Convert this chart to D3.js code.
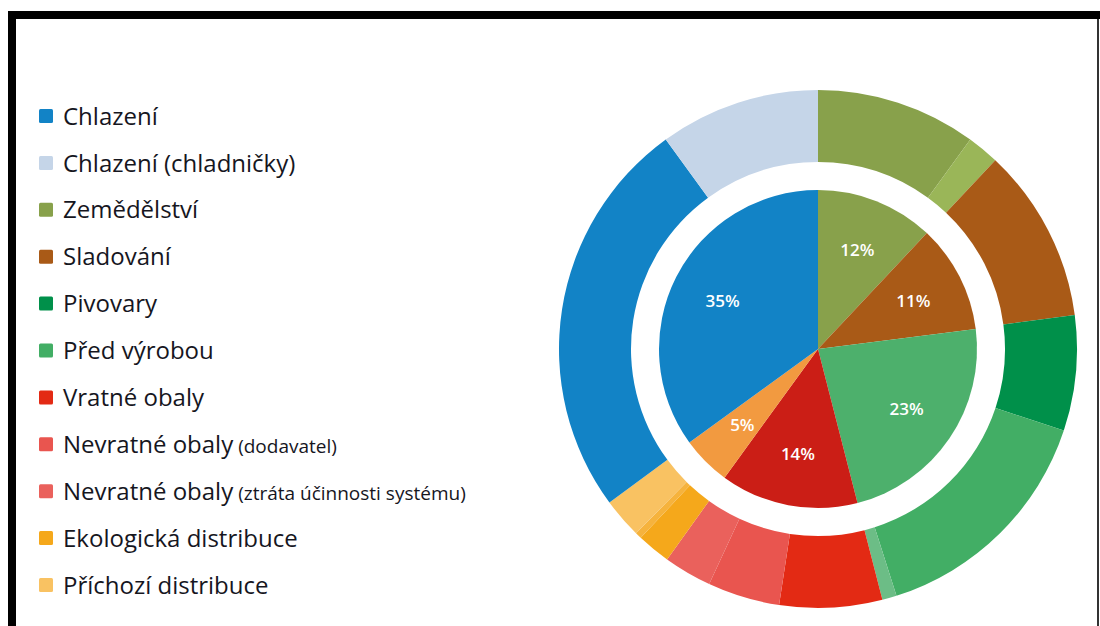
<!DOCTYPE html>
<html>
<head>
<meta charset="utf-8">
<script src="https://cdn.jsdelivr.net/npm/d3@7"></script>
<style>
  body { margin: 0; background: #fff; }
  svg { display: block; }
</style>
</head>
<body>
<svg id="chart"></svg>
<script>
// legend
const legendNames = [
  ["Chlazení", ""],
  ["Chlazení (chladničky)", ""],
  ["Zemědělství", ""],
  ["Sladování", ""],
  ["Pivovary", ""],
  ["Před výrobou", ""],
  ["Vratné obaly", ""],
  ["Nevratné obaly", "(dodavatel)"],
  ["Nevratné obaly", "(ztráta účinnosti systému)"],
  ["Ekologická distribuce", ""],
  ["Příchozí distribuce", ""]
];
const legendColors = ["#1283c6", "#c5d5e8", "#88a14b", "#a95a17", "#00904a", "#42ae65",
  "#e32a14", "#e9554f", "#ea615c", "#f5a81b", "#f9c262"];

// inner pie (% of total)
const innerLabels = ["Zemědělství", "Sladování", "Výroba", "Obaly", "Distribuce", "Chlazení"];
const innerValues = [12, 11, 23, 14, 5, 35];
const innerColors = ["#88a14b", "#a95a17", "#4db06c", "#cb1e16", "#f29a40", "#1283c6"];

// outer ring (% of total)
const outerLabels = ["Zemědělství", "Zemědělství (ostatní)", "Sladování", "Pivovary", "Před výrobou",
  "Před výrobou (ostatní)", "Vratné obaly", "Nevratné obaly (dodavatel)", "Nevratné obaly (ztráta)",
  "Ekologická distribuce", "Distribuce (ostatní)", "Příchozí distribuce", "Chlazení", "Chlazení (chladničky)"];
const outerValues = [10, 2, 10.9, 7.2, 15.0, 0.9, 6.4, 4.5, 3.0, 2.1, 0.4, 2.5, 25.1, 10.0];
const outerColors = ["#88a14b", "#9ab658", "#a95a17", "#00904a", "#42ae65", "#6cbd86", "#e32a14",
  "#e9554f", "#ea615c", "#f5a81b", "#f6b33d", "#f9c262", "#1283c6", "#c5d5e8"];

const W = 1100, H = 626;
const cx = 818, cy = 349;

const svg = d3.select("#chart")
  .attr("width", W)
  .attr("height", H);

// frame
svg.append("rect").attr("x", 8).attr("y", 11).attr("width", W - 8).attr("height", 8).attr("fill", "#000");
svg.append("rect").attr("x", 8).attr("y", 11).attr("width", 8).attr("height", H - 11).attr("fill", "#000");
svg.append("rect").attr("x", 1097).attr("y", 19).attr("width", 2).attr("height", H - 19).attr("fill", "#333");

const pie = d3.pie().sort(null).value(d => d);

const g = svg.append("g").attr("transform", `translate(${cx}, ${cy})`);

// outer ring
const outerArc = d3.arc().innerRadius(187).outerRadius(259);
g.selectAll("path.outer")
  .data(pie(outerValues))
  .enter()
  .append("path")
  .attr("class", "outer")
  .attr("d", outerArc)
  .attr("fill", (d, i) => outerColors[i]);

// inner pie
const innerArc = d3.arc().innerRadius(0).outerRadius(159);
const labelArc = d3.arc().innerRadius(107).outerRadius(107);
const innerPie = pie(innerValues);

g.selectAll("path.inner")
  .data(innerPie)
  .enter()
  .append("path")
  .attr("class", "inner")
  .attr("d", innerArc)
  .attr("fill", (d, i) => innerColors[i]);

g.selectAll("text.pct")
  .data(innerPie)
  .enter()
  .append("text")
  .attr("class", "pct")
  .attr("transform", d => `translate(${labelArc.centroid(d)})`)
  .attr("text-anchor", "middle")
  .attr("dy", "0.36em")
  .style("font-family", "'Open Sans', sans-serif")
  .style("font-size", "17px")
  .style("font-weight", "600")
  .style("fill", "#fff")
  .text(d => d.data + "%");

// legend
const legend = svg.append("g");
const rows = legend.selectAll("g")
  .data(legendNames)
  .enter()
  .append("g")
  .attr("transform", (d, i) => `translate(39, ${109 + i * 46.9})`);

rows.append("rect")
  .attr("width", 14)
  .attr("height", 14)
  .attr("rx", 1.5)
  .attr("fill", (d, i) => legendColors[i]);

const txt = rows.append("text")
  .attr("x", 24)
  .attr("y", 7)
  .attr("dy", "0.36em")
  .style("font-family", "'Open Sans', sans-serif")
  .style("font-size", "24px")
  .style("font-weight", "500")
  .style("fill", "#16161e");

txt.append("tspan").text(d => d[0]);
txt.append("tspan")
  .style("font-size", "19px")
  .text(d => d[1] ? " " + d[1] : "");
</script>
</body>
</html>
